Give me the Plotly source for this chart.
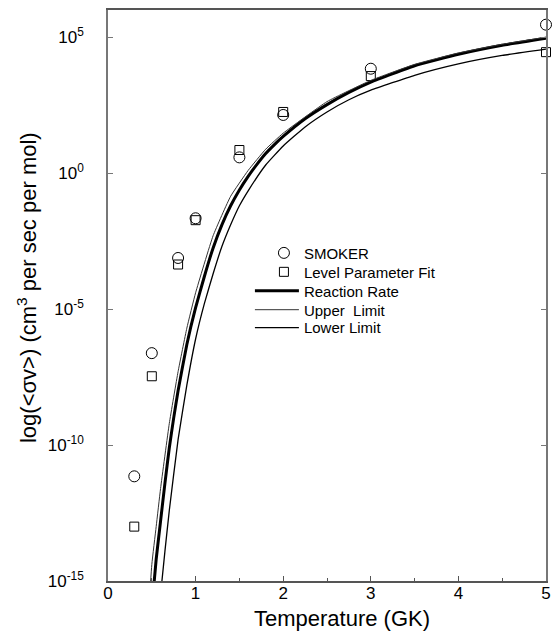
import plotly.graph_objects as go

# Scatter data (temperature in GK, log10 of rate)
point_T = [0.3, 0.5, 0.8, 1.0, 1.5, 2.0, 3.0, 5.0]
smoker_log = [-11.15, -6.62, -3.12, -1.66, 0.58, 2.14, 3.84, 5.46]
level_fit_log = [-13.0, -7.47, -3.36, -1.73, 0.85, 2.25, 3.57, 4.45]

# Curves (log10 of rate)
rate_T = [0.50, 0.55, 0.60, 0.65, 0.70, 0.75, 0.80, 0.90, 1.00, 1.10, 1.20, 1.30, 1.40, 1.50,
          1.60, 1.70, 1.80, 1.90, 2.00, 2.25, 2.50, 2.75, 3.00, 3.50, 4.00, 4.50, 5.00]
rate_log = [-16.0, -14.2, -12.8, -11.4, -10.1, -9.0, -8.0, -6.3, -4.95, -3.8, -2.75, -1.9, -1.2, -0.62,
            -0.12, 0.32, 0.72, 1.05, 1.35, 2.0, 2.52, 2.97, 3.35, 3.95, 4.37, 4.70, 4.96]

upper_T = [0.45, 0.50, 0.55, 0.60, 0.70, 0.80, 0.90, 1.00, 1.20, 1.40, 1.60, 1.80, 2.00,
           2.50, 3.00, 3.50, 4.00, 4.50, 5.00]
upper_log = [-16.9, -14.4, -13.0, -11.6, -9.2, -7.3, -5.7, -4.4, -2.3, -0.85, 0.1, 0.88, 1.47,
             2.63, 3.41, 4.0, 4.42, 4.74, 5.0]

lower_T = [0.60, 0.65, 0.70, 0.80, 0.90, 1.00, 1.10, 1.20, 1.30, 1.40, 1.50, 1.60, 1.80, 2.00,
           2.25, 2.50, 2.75, 3.00, 3.50, 4.00, 4.50, 5.00]
lower_log = [-15.5, -13.9, -12.4, -9.8, -7.8, -6.1, -4.8, -3.7, -2.7, -1.9, -1.2, -0.65, 0.3, 1.0,
             1.7, 2.25, 2.7, 3.05, 3.6, 4.02, 4.33, 4.56]

y_tickvals = [1e-15, 1e-10, 1e-5, 1e0, 1e5]
y_ticktext = ["10<sup>-15</sup>", "10<sup>-10</sup>", "10<sup>-5</sup>", "10<sup>0</sup>", "10<sup>5</sup>"]
x_tickvals = [0, 1, 2, 3, 4, 5]


def pw(vals):
    return [10 ** v for v in vals]


fig = go.Figure()
fig.add_trace(go.Scatter(
    x=point_T, y=pw(smoker_log), mode="markers", name="SMOKER", legend="legend",
    marker=dict(symbol="circle-open", size=11, color="black", line=dict(width=1, color="black")),
    cliponaxis=False))
fig.add_trace(go.Scatter(
    x=point_T, y=pw(level_fit_log), mode="markers", name="Level Parameter Fit", legend="legend2",
    marker=dict(symbol="square-open", size=9, color="black", line=dict(width=1, color="black")),
    cliponaxis=False))
fig.add_trace(go.Scatter(
    x=rate_T, y=pw(rate_log), mode="lines", name="Reaction Rate", legend="legend3",
    line=dict(color="black", width=3, shape="spline", smoothing=0.4)))
fig.add_trace(go.Scatter(
    x=upper_T, y=pw(upper_log), mode="lines", name="Upper  Limit", legend="legend4",
    line=dict(color="#333333", width=1, shape="spline", smoothing=0.4)))
fig.add_trace(go.Scatter(
    x=lower_T, y=pw(lower_log), mode="lines", name="Lower Limit", legend="legend5",
    line=dict(color="black", width=1.3, shape="spline", smoothing=0.4)))


def leg(yv, xv=0.356, iw=30):
    return dict(x=xv, y=yv, xanchor="left", yanchor="middle", itemwidth=iw,
                bgcolor="rgba(0,0,0,0)", font=dict(size=15))


fig.update_layout(
    width=552, height=624,
    margin=dict(l=100, r=14, t=0, b=51),
    paper_bgcolor="white", plot_bgcolor="white",
    font=dict(family="Liberation Sans, Arial, sans-serif", color="black", size=15),
    showlegend=True,
    legend=leg(0.5742), legend2=leg(0.5410),
    legend3=leg(0.5079, 0.324, 44), legend4=leg(0.4747, 0.324, 44), legend5=leg(0.4433, 0.324, 44),
    annotations=[
        dict(text="Temperature (GK)", xref="paper", yref="paper", x=0.5336, y=-0.0663,
             xanchor="center", yanchor="middle", showarrow=False, font=dict(size=22)),
        dict(text="log(<σv>) (cm<sup>3</sup> per sec per mol)", xref="paper", yref="paper",
             x=-0.185, y=0.5148, xanchor="center", yanchor="middle", textangle=-90,
             showarrow=False, font=dict(size=22)),
    ],
)
fig.update_xaxes(
    range=[0, 5], tickvals=x_tickvals, ticks="inside", ticklen=5, tickcolor="#555",
    showline=True, linecolor="#555", linewidth=1.5, mirror=True,
    showgrid=False, zeroline=False, tickfont=dict(size=17), ticklabelstandoff=-4,
    minor=dict(dtick=0.5, ticks="inside", ticklen=3, tickcolor="#555"),
)
fig.update_yaxes(
    type="log", range=[-15, 6], tickvals=y_tickvals, ticktext=y_ticktext,
    ticks="inside", ticklen=5, tickcolor="#777",
    showline=True, linecolor="#777", linewidth=1.5, mirror="ticks",
    showgrid=False, zeroline=False, tickfont=dict(size=17), ticklabelstandoff=19,
)

fig.write_html("out.html")
